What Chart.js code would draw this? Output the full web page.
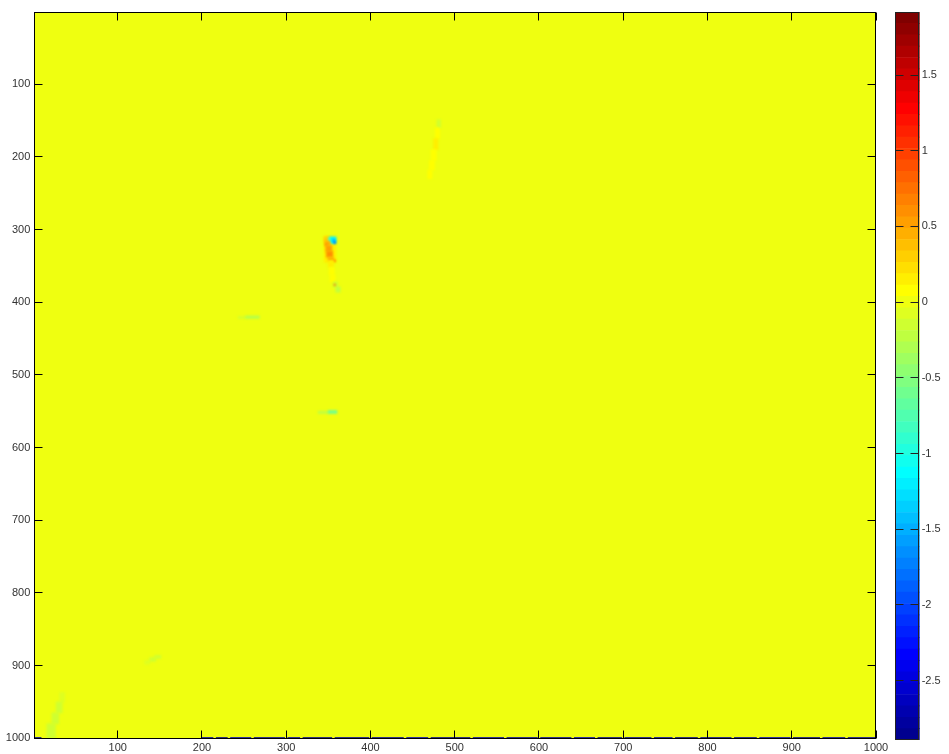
<!DOCTYPE html>
<html>
<head>
<meta charset="utf-8">
<title>Field map</title>
<script src="https://cdn.jsdelivr.net/npm/chart.js@4/dist/chart.umd.min.js"></script>
<style>
  html, body { margin: 0; padding: 0; background: #fff; }
  #wrap { position: relative; width: 949px; height: 754px; overflow: hidden; }
  #field { position: absolute; left: 0; top: 0; }
  #bar { position: absolute; left: 880px; top: 0; }
</style>
</head>
<body>
<div id="wrap">
  <canvas id="field" width="949" height="754"></canvas>
  <canvas id="bar" width="69" height="754"></canvas>
</div>
<script>
// ---- data -------------------------------------------------------------
const colTicks = [100, 200, 300, 400, 500, 600, 700, 800, 900, 1000];
const rowTicks = [100, 200, 300, 400, 500, 600, 700, 800, 900, 1000];
const colorTicks = [-2.5, -2, -1.5, -1, -0.5, 0, 0.5, 1, 1.5];
const colorRange = [-2.893, 1.917];
const fieldCols = [1, 1000];
const fieldRows = [1, 1000];
const baseValue = 0;

// Non-zero patches of the field: [firstCol, lastCol, firstRow, lastRow, value]
const coreFeature = [
  [345, 359, 309, 345, 0.15],
  [345, 351, 310, 317, 0.3],
  [350, 353, 311, 316, -0.6],
  [352, 359, 310, 319, -1.1],
  [355, 358, 313, 317, -1.4],
  [357, 358, 317, 319, -2.2],
  [346, 352, 316, 322, 0.45],
  [347, 354, 322, 330, 0.55],
  [348, 355, 330, 338, 0.62],
  [350, 356, 338, 343, 0.45],
  [347, 347, 320, 321, 0.95],
  [357, 358, 342, 344, 0.9],
  [350, 356, 343, 352, 0.12],
  [351, 357, 352, 362, 0.1],
  [352, 358, 362, 372, 0.08],
  [356, 361, 372, 379, -0.12],
  [359, 364, 379, 386, -0.25],
  [357, 358, 375, 377, 0.8]
];
const upperStreak = [
  [479, 483, 149, 160, -0.15],
  [477, 482, 160, 175, 0.08],
  [475, 480, 175, 190, 0.12],
  [472, 478, 190, 205, 0.1],
  [470, 476, 205, 218, 0.08],
  [468, 473, 218, 230, 0.06]
];
const smallStreaks = [
  [243, 252, 420, 422, -0.15],
  [252, 268, 419, 422, -0.3],
  [338, 350, 550, 553, -0.25],
  [350, 360, 549, 553, -0.6],
  [132, 138, 893, 898, -0.1],
  [138, 145, 889, 894, -0.15],
  [144, 151, 886, 890, -0.15]
];
const cornerStreak = [
  [31, 37, 937, 950, -0.1],
  [27, 34, 950, 965, -0.12],
  [22, 30, 965, 980, -0.12],
  [16, 26, 980, 1000, -0.12]
];
// Last row: [firstCol, lastCol, value]
const lastRowRuns = [
  [1, 9, -2.8], [200, 213, -2.7], [217, 230, -2.85], [234, 258, -2.6],
  [262, 298, -2.8], [302, 316, -2.7], [320, 354, -2.85], [358, 398, -2.75],
  [402, 439, -2.8], [443, 468, -2.6], [472, 518, -2.85], [522, 558, -2.7],
  [562, 598, -2.8], [602, 638, -2.75], [642, 666, -2.6], [670, 698, -2.85],
  [702, 733, -2.8], [737, 758, -2.7], [762, 788, -2.85], [792, 828, -2.75],
  [832, 858, -2.8], [862, 898, -2.6], [902, 933, -2.85], [937, 963, -2.7],
  [967, 1000, -2.8]
];

// ---- colour map (64-level jet) ----------------------------------------
const LEVELS = 64;
function jet(i) {
  const x = (i + 1) / LEVELS;
  const f = t => Math.round(255 * Math.min(1, Math.max(0, 1.5 - Math.abs(4 * x - t))));
  return `rgb(${f(3)},${f(2)},${f(1)})`;
}
function colorOf(v) {
  let i = Math.floor((v - colorRange[0]) / (colorRange[1] - colorRange[0]) * LEVELS);
  i = Math.max(0, Math.min(LEVELS - 1, i));
  return jet(i);
}

// ---- build cells ------------------------------------------------------
const toCell = ([c0, c1, r0, r1, v], smooth) => ({ x: (c0 + c1) / 2, y: (r0 + r1) / 2, c0, c1, r0, r1, v, smooth });
const cells = [
  toCell([fieldCols[0], fieldCols[1], fieldRows[0], fieldRows[1], baseValue], false),
  ...upperStreak.map(p => toCell(p, true)),
  ...smallStreaks.map(p => toCell(p, true)),
  ...cornerStreak.map(p => toCell(p, true)),
  ...coreFeature.map(p => toCell(p, true)),
  ...lastRowRuns.map(([c0, c1, v]) => toCell([c0, c1, fieldRows[1] - 1, fieldRows[1], v], false))
];

const FONT = { family: '"Liberation Sans", Arial, sans-serif', size: 11 };
const TEXT = '#333';
const plainLabel = v => String(v);
const noEdgePadding = s => { s.paddingLeft = 0; s.paddingRight = 0; s.paddingTop = 0; s.paddingBottom = 0; };

// Paint each cell as a rectangle through the chart's scales (interpolated look for the patches)
const cellPainter = {
  id: 'cellPainter',
  beforeDatasetsDraw(chart) {
    const { ctx, chartArea: a, scales: { x, y } } = chart;
    ctx.save();
    ctx.beginPath();
    ctx.rect(a.left, a.top, a.right - a.left, a.bottom - a.top);
    ctx.clip();
    chart.data.datasets[0].data.forEach(d => {
      const x0 = x.getPixelForValue(d.c0 - 0.5), x1 = x.getPixelForValue(d.c1 + 0.5);
      const y0 = y.getPixelForValue(d.r0 - 0.5), y1 = y.getPixelForValue(d.r1 + 0.5);
      ctx.filter = d.smooth ? 'blur(0.8px)' : 'none';
      ctx.fillStyle = colorOf(d.v);
      ctx.fillRect(Math.min(x0, x1), Math.min(y0, y1), Math.abs(x1 - x0), Math.abs(y1 - y0));
    });
    ctx.restore();
  }
};

// Box frame with inward tick marks on all four sides
const boxTicks = {
  id: 'boxTicks',
  afterDraw(chart) {
    const { ctx, chartArea: a, scales: { x, y } } = chart;
    const L = Math.floor(a.left) + 0.5, R = Math.floor(a.right) - 0.5;
    const T = Math.floor(a.top) + 0.5, B = Math.floor(a.bottom) + 0.5;
    const len = 8;
    ctx.save();
    ctx.strokeStyle = '#000';
    ctx.lineWidth = 1;
    ctx.strokeRect(L, T, R - L, B - T);
    ctx.beginPath();
    x.ticks.forEach(t => {
      const px = Math.floor(x.getPixelForValue(t.value)) + 0.5;
      ctx.moveTo(px, B); ctx.lineTo(px, B - len);
      ctx.moveTo(px, T); ctx.lineTo(px, T + len);
    });
    y.ticks.forEach(t => {
      const py = Math.floor(y.getPixelForValue(t.value)) + 0.5;
      ctx.moveTo(L, py); ctx.lineTo(L + len, py);
      ctx.moveTo(R, py); ctx.lineTo(R - len, py);
    });
    ctx.stroke();
    ctx.restore();
  }
};

new Chart(document.getElementById('field'), {
  type: 'scatter',
  data: { datasets: [{ data: cells, pointRadius: 0, pointHoverRadius: 0 }] },
  options: {
    responsive: false,
    animation: false,
    devicePixelRatio: 1,
    events: [],
    layout: { padding: { top: 12.3, right: 73, left: 0, bottom: 0 } },
    plugins: { legend: { display: false }, tooltip: { enabled: false } },
    scales: {
      x: {
        type: 'linear', min: fieldCols[0], max: fieldCols[1],
        grid: { display: false, drawTicks: false },
        border: { display: false },
        afterBuildTicks: s => { s.ticks = colTicks.map(v => ({ value: v })); },
        afterFit: s => { s.height = 15.7; noEdgePadding(s); },
        ticks: { font: FONT, color: TEXT, padding: 3, autoSkip: false, maxRotation: 0, callback: plainLabel }
      },
      y: {
        type: 'linear', reverse: true, min: fieldRows[0], max: fieldRows[1],
        grid: { display: false, drawTicks: false },
        border: { display: false },
        afterBuildTicks: s => { s.ticks = rowTicks.map(v => ({ value: v })); },
        afterFit: s => { s.width = 34.3; noEdgePadding(s); },
        ticks: { font: FONT, color: TEXT, padding: 4, autoSkip: false, callback: plainLabel }
      }
    }
  },
  plugins: [cellPainter, boxTicks]
});

// ---- colour bar -------------------------------------------------------
const step = (colorRange[1] - colorRange[0]) / LEVELS;
const barSets = Array.from({ length: LEVELS }, (_, i) => ({
  data: [[colorRange[0] + i * step, colorRange[0] + (i + 1) * step]],
  backgroundColor: jet(i),
  borderWidth: 0,
  grouped: false,
  barPercentage: 1,
  categoryPercentage: 1
}));

const barFrame = {
  id: 'barFrame',
  afterDraw(chart) {
    const { ctx, chartArea: a, scales: { y } } = chart;
    const L = Math.floor(a.left) + 0.5, R = Math.floor(a.right) - 0.5;
    const T = Math.floor(a.top) + 0.5, B = Math.floor(a.bottom) - 0.5;
    const len = 8;
    ctx.save();
    ctx.strokeStyle = '#222';
    ctx.lineWidth = 1;
    ctx.strokeRect(L, T, R - L, B - T);
    ctx.beginPath();
    y.ticks.forEach(t => {
      const py = Math.floor(y.getPixelForValue(t.value)) + 0.5;
      ctx.moveTo(L, py); ctx.lineTo(L + len, py);
      ctx.moveTo(R, py); ctx.lineTo(R - len, py);
    });
    ctx.stroke();
    ctx.restore();
  }
};

new Chart(document.getElementById('bar'), {
  type: 'bar',
  data: { labels: [''], datasets: barSets },
  options: {
    responsive: false,
    animation: false,
    devicePixelRatio: 1,
    events: [],
    layout: { padding: { left: 15.3, top: 12, bottom: 14, right: 0 } },
    plugins: { legend: { display: false }, tooltip: { enabled: false } },
    scales: {
      x: { display: false },
      y: {
        position: 'right', min: colorRange[0], max: colorRange[1],
        grid: { display: false, drawTicks: false },
        border: { display: false },
        afterBuildTicks: s => { s.ticks = colorTicks.map(v => ({ value: v })); },
        afterFit: s => { s.width = 29.3; noEdgePadding(s); },
        ticks: { font: FONT, color: TEXT, padding: 2, callback: plainLabel }
      }
    }
  },
  plugins: [barFrame]
});
</script>
</body>
</html>
